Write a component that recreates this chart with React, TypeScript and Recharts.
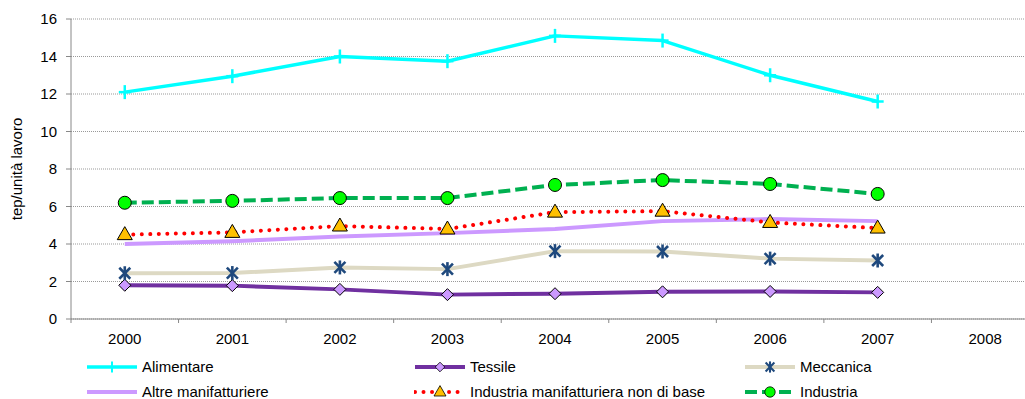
import React from 'react';
import { LineChart, Line, XAxis, YAxis, CartesianGrid } from 'recharts';

// values (tep/unità lavoro)
const years = ['2000', '2001', '2002', '2003', '2004', '2005', '2006', '2007', '2008'];
const alimentare = [12.1, 12.95, 14.0, 13.75, 15.1, 14.85, 13.0, 11.6];
const tessile = [1.8, 1.78, 1.58, 1.3, 1.35, 1.45, 1.47, 1.42];
const meccanica = [2.44, 2.45, 2.75, 2.66, 3.62, 3.6, 3.22, 3.12];
const altre = [4.0, 4.15, 4.4, 4.58, 4.8, 5.22, 5.33, 5.22];
const nonDiBase = [4.5, 4.62, 4.96, 4.8, 5.7, 5.75, 5.15, 4.85];
const industria = [6.2, 6.3, 6.45, 6.45, 7.15, 7.41, 7.2, 6.67];
const yTicks = [0, 2, 4, 6, 8, 10, 12, 14, 16];

const FONT = '"Liberation Sans", Arial, sans-serif';

const data = years.map((year, i) => ({
  x: i,
  year,
  alimentare: alimentare[i],
  tessile: tessile[i],
  meccanica: meccanica[i],
  altre: altre[i],
  nonDiBase: nonDiBase[i],
  industria: industria[i],
}));

// tick positions: category centres (labels) and band edges (tick marks)
const xTicks = years.flatMap((_, i) => [i - 0.5, i]).concat([years.length - 0.5]);

type MarkerKind = 'plus' | 'diamond' | 'star' | 'none' | 'triangle' | 'circle';

const Marker = ({ kind, cx, cy }: { kind: MarkerKind; cx: number; cy: number }) => {
  switch (kind) {
    case 'plus':
      return (
        <g stroke="#00FFFF" strokeWidth={2.5}>
          <line x1={cx - 6} x2={cx + 6} y1={cy} y2={cy} />
          <line x1={cx} x2={cx} y1={cy - 7} y2={cy + 7} />
        </g>
      );
    case 'diamond':
      return (
        <polygon
          points={`${cx},${cy - 6} ${cx + 6},${cy} ${cx},${cy + 6} ${cx - 6},${cy}`}
          fill="#CC99FF"
          stroke="#000"
          strokeWidth={1}
        />
      );
    case 'star':
      return (
        <g stroke="#1F497D" strokeWidth={2.6}>
          <line x1={cx - 5.5} x2={cx + 5.5} y1={cy - 5.5} y2={cy + 5.5} />
          <line x1={cx - 5.5} x2={cx + 5.5} y1={cy + 5.5} y2={cy - 5.5} />
          <line x1={cx} x2={cx} y1={cy - 7} y2={cy + 7} />
        </g>
      );
    case 'triangle':
      return (
        <polygon
          points={`${cx},${cy - 8} ${cx + 7.5},${cy + 5} ${cx - 7.5},${cy + 5}`}
          fill="#FFC000"
          stroke="#000"
          strokeWidth={1}
        />
      );
    case 'circle':
      return <circle cx={cx} cy={cy} r={6.5} fill="#00FF00" stroke="#000" strokeWidth={1} />;
    default:
      return null;
  }
};

const series: {
  key: string;
  name: string;
  color: string;
  width: number;
  dash?: string;
  cap?: 'round' | 'butt';
  marker: MarkerKind;
}[] = [
  { key: 'alimentare', name: 'Alimentare', color: '#00FFFF', width: 3.5, marker: 'plus' },
  { key: 'tessile', name: 'Tessile', color: '#7030A0', width: 4, marker: 'diamond' },
  { key: 'meccanica', name: 'Meccanica', color: '#DDD9C3', width: 4, marker: 'star' },
  { key: 'altre', name: 'Altre manifatturiere', color: '#CC99FF', width: 4, marker: 'none' },
  {
    key: 'nonDiBase',
    name: 'Industria manifatturiera non di base',
    color: '#FF0000',
    width: 4,
    dash: '0.01 8.5',
    cap: 'round',
    marker: 'triangle',
  },
  { key: 'industria', name: 'Industria', color: '#00B050', width: 4, dash: '12 5', marker: 'circle' },
];

const XTick = (props: any) => {
  const { x, y, payload } = props;
  const v = payload.value as number;
  if (!Number.isInteger(v)) {
    return <line x1={x} x2={x} y1={y - 14} y2={y - 10} stroke="#888" />;
  }
  return (
    <text x={x} y={y} dy="0.71em" textAnchor="middle" fontSize={15} fill="#000" fontFamily={FONT}>
      {years[v]}
    </text>
  );
};

const legendCols = [86, 414, 744];

const LegendIcon = ({ s }: { s: (typeof series)[number] }) => (
  <svg width={52} height={14} style={{ display: 'block' }}>
    <line
      x1={1}
      x2={51}
      y1={7}
      y2={7}
      stroke={s.color}
      strokeWidth={s.width}
      strokeDasharray={s.dash}
      strokeLinecap={s.cap ?? 'butt'}
    />
    <g transform="translate(26 7) scale(0.8) translate(-26 -7)">
      <Marker kind={s.marker} cx={26} cy={7} />
    </g>
  </svg>
);

export default function App() {
  return (
    <div
      style={{
        position: 'fixed',
        left: 0,
        top: 0,
        width: 1025,
        height: 399,
        overflow: 'hidden',
        background: '#fff',
        fontFamily: FONT,
      }}
    >
      <LineChart width={1045} height={399} data={data} margin={{ top: 19, right: 6, bottom: 50, left: 0 }}>
        <CartesianGrid vertical={false} stroke="#999" strokeDasharray="1 1" />
        <XAxis
          dataKey="x"
          type="number"
          domain={[-0.5, years.length - 0.5]}
          ticks={xTicks}
          interval={0}
          height={30}
          tickLine={false}
          tickSize={6}
          tickMargin={8}
          axisLine={{ stroke: '#888' }}
          tick={<XTick />}
        />
        <YAxis
          type="number"
          domain={[0, 16]}
          ticks={yTicks}
          width={71}
          tickSize={5}
          tickMargin={9}
          axisLine={{ stroke: '#888' }}
          tickLine={{ stroke: '#888' }}
          tick={{ fontSize: 15, fill: '#000', fontFamily: FONT }}
          label={{
            value: 'tep/unità lavoro',
            angle: -90,
            position: 'insideLeft',
            offset: 17,
            style: { textAnchor: 'middle', fontSize: 15, fill: '#000', fontFamily: FONT },
          }}
        />
        {series.map((s) => (
          <Line
            key={s.key}
            dataKey={s.key}
            name={s.name}
            type="linear"
            stroke={s.color}
            strokeWidth={s.width}
            strokeDasharray={s.dash}
            strokeLinecap={s.cap ?? 'butt'}
            strokeLinejoin="round"
            isAnimationActive={false}
            activeDot={false}
            dot={(p: any) => (
              <g key={`${s.key}-${p.index}`}>
                {p.cy != null && <Marker kind={s.marker} cx={p.cx} cy={p.cy} />}
              </g>
            )}
          />
        ))}
      </LineChart>
      {series.map((s, i) => (
        <div
          key={`leg-${s.key}`}
          style={{
            position: 'absolute',
            left: legendCols[i % 3],
            top: i < 3 ? 358 : 383,
            display: 'flex',
            alignItems: 'center',
            gap: 4,
            fontSize: 15,
            lineHeight: '17px',
            color: '#000',
            whiteSpace: 'nowrap',
          }}
        >
          <LegendIcon s={s} />
          <span>{s.name}</span>
        </div>
      ))}
    </div>
  );
}
